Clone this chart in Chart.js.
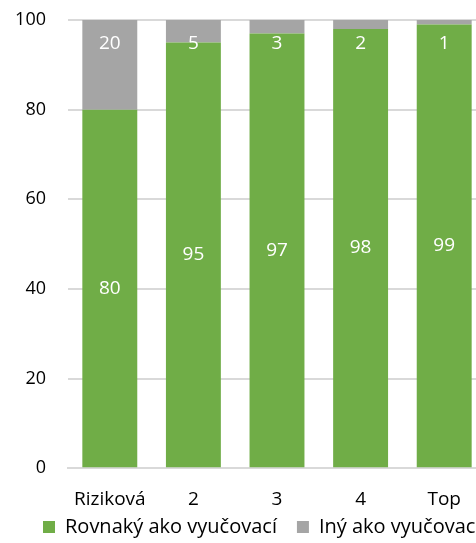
<!DOCTYPE html>
<html>
<head>
<meta charset="utf-8">
<script src="https://cdn.jsdelivr.net/npm/chart.js@4"></script>
<style>
  html, body { margin: 0; padding: 0; overflow: hidden; background: #fff; }
  #wrap { width: 531px; height: 543px; }
</style>
</head>
<body>
<div id="wrap"><canvas id="chart"></canvas></div>
<script>
const categories = ["Riziková", "2", "3", "4", "Top"];
const sameValues = [80, 95, 97, 98, 99];
const otherValues = [20, 5, 3, 2, 1];
const seriesNames = ["Rovnaký ako vyučovací", "Iný ako vyučovací"];
const yTicks = [0, 20, 40, 60, 80, 100];

const fontFamily = "'Open Sans', 'Noto Sans', sans-serif";

// white value labels inside the bars
const barLabels = {
  id: "barLabels",
  afterDatasetsDraw(chart) {
    const ctx = chart.ctx;
    ctx.save();
    ctx.fillStyle = "#ffffff";
    ctx.font = "19px " + fontFamily;
    ctx.textAlign = "center";
    ctx.textBaseline = "middle";
    chart.data.datasets.forEach((ds, i) => {
      chart.getDatasetMeta(i).data.forEach((bar, j) => {
        const top = Math.min(bar.y, bar.base);
        const bottom = Math.max(bar.y, bar.base);
        const y = i === 0 ? (top + bottom) / 2 : top + 24;
        ctx.fillText(String(ds.data[j]), bar.x, y);
      });
    });
    ctx.restore();
  }
};

// put the legend row where the original had it
const legendPlace = {
  id: "legendPlace",
  afterLayout(chart) {
    const lg = chart.legend;
    const w = lg.width, h = lg.height;
    lg.left = 23;
    lg.right = lg.left + w;
    lg.top = 497;
    lg.bottom = lg.top + h;
  }
};

new Chart(document.getElementById("chart"), {
  type: "bar",
  data: {
    labels: categories,
    datasets: [
      {
        label: seriesNames[0],
        data: sameValues,
        backgroundColor: "#70ad47"
      },
      {
        label: seriesNames[1],
        data: otherValues,
        backgroundColor: "#a5a5a5"
      }
    ]
  },
  options: {
    responsive: true,
    maintainAspectRatio: false,
    animation: false,
    datasets: {
      bar: { categoryPercentage: 1, barPercentage: 0.657 }
    },
    layout: { padding: { top: 0, right: 45, left: 0, bottom: -38 } },
    plugins: {
      legend: {
        position: "bottom",
        align: "start",
        labels: {
          boxWidth: 12,
          boxHeight: 12,
          padding: 20,
          color: "#000",
          font: { family: fontFamily, size: 20 }
        }
      },
      tooltip: { enabled: false }
    },
    scales: {
      x: {
        stacked: true,
        grid: { display: false, drawTicks: false },
        border: { display: true, color: "#d9d9d9", width: 2 },
        ticks: {
          color: "#000",
          padding: 20,
          font: { family: fontFamily, size: 19 }
        }
      },
      y: {
        stacked: true,
        min: 0,
        max: 100,
        afterBuildTicks(axis) {
          axis.ticks = yTicks.map(v => ({ value: v }));
        },
        afterFit(axis) {
          axis.width = 68;
          axis.paddingTop = 20;
        },
        grid: { color: "#d9d9d9", lineWidth: 2, drawTicks: false },
        border: { display: false },
        ticks: {
          color: "#000",
          padding: 22,
          font: { family: fontFamily, size: 18 }
        }
      }
    }
  },
  plugins: [barLabels, legendPlace]
});
</script>
</body>
</html>
